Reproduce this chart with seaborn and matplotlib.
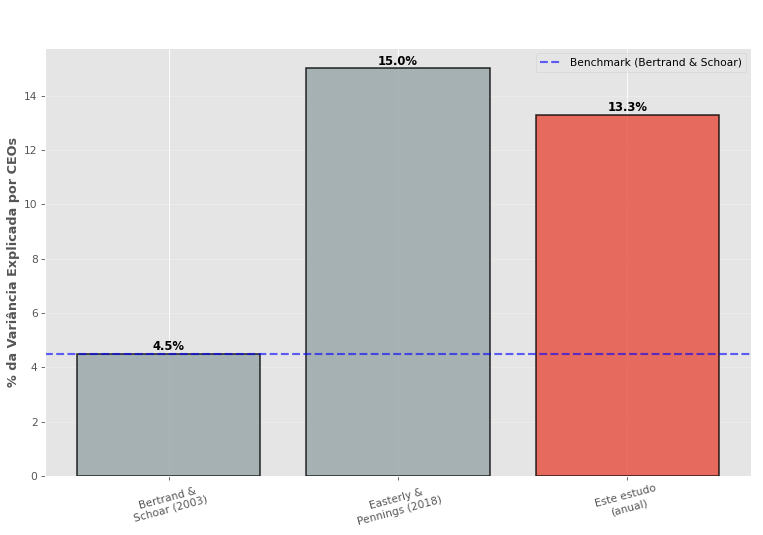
import matplotlib
matplotlib.use("Agg")
import matplotlib.pyplot as plt
import seaborn as sns
import pandas as pd

categories = ["Bertrand &\nSchoar (2003)", "Easterly &\nPennings (2018)", "Este estudo\n(anual)"]
values = [4.5, 15.0, 13.3]
colors = ["#95a5a6", "#95a5a6", "#e74c3c"]
benchmark = 4.5

plt.style.use("ggplot")
df = pd.DataFrame({"cat": categories, "val": values})

DPI = 76.3
fig = plt.figure(figsize=(763/DPI, 535/DPI), dpi=DPI)
ax = fig.add_axes([45/763, 1-476/535, (751-45)/763, (476-48)/535])
sns.barplot(data=df, x="cat", y="val", hue="cat", palette=colors, legend=False,
            alpha=0.8, edgecolor="black", linewidth=1.5, width=0.8, ax=ax, saturation=1)
ax.axhline(benchmark, color="blue", linestyle="--", linewidth=2, alpha=0.6,
           label="Benchmark (Bertrand & Schoar)")
for i, v in enumerate(values):
    ax.text(i, v + 0.03, f"{v:.1f}%", ha="center", va="bottom", fontweight="bold", fontsize=11, color="black")
ax.set_xlim(-0.54, 2.54)
ax.set_ylim(0, 15.75)
ax.set_xlabel("")
ax.set_ylabel("% da Variância Explicada por CEOs", fontsize=12, fontweight="bold", color="#555555")
ax.grid(True, axis="x", color="white")
ax.grid(True, axis="y", alpha=0.3)
ax.set_axisbelow(True)
plt.setp(ax.get_xticklabels(), rotation=15)
ax.legend(loc="upper right", fontsize=10)
fig.savefig("out.png", dpi=DPI)
